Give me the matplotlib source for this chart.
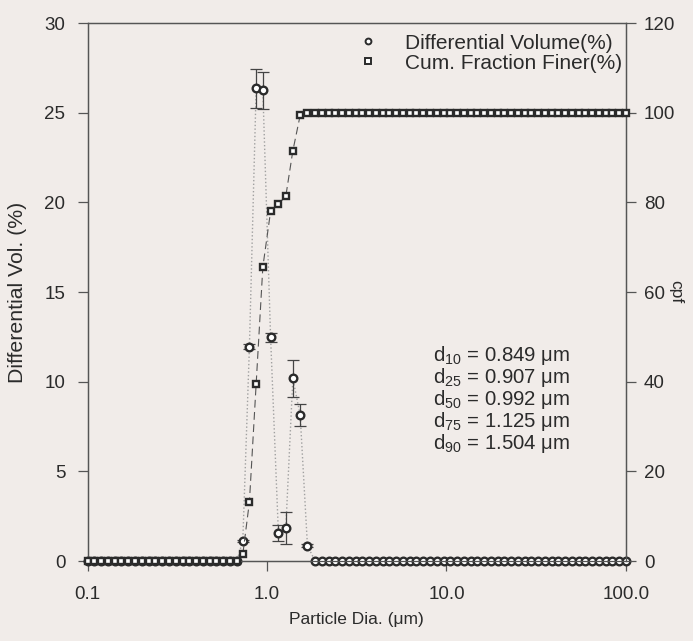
import numpy as np
import matplotlib
matplotlib.use('Agg')
import matplotlib.pyplot as plt
from matplotlib.ticker import NullLocator
from matplotlib.lines import Line2D

plt.rcParams['font.family'] = ['Liberation Sans', 'DejaVu Sans']
plt.rcParams['mathtext.default'] = 'regular'

# particle size bins (um): flat baseline grids + the peak region
x_left = np.geomspace(0.1, 0.679, 23)
x_peak = [0.733, 0.798, 0.870, 0.948, 1.047, 1.157, 1.273, 1.393, 1.530, 1.680]
x_right = np.geomspace(1.854, 100, 47)

# differential volume (%) and its error bars
diff_left = [0.0] * 23
diff_peak = [1.13, 11.95, 26.35, 26.25, 12.47, 1.58, 1.86, 10.18, 8.14, 0.85]
diff_right = [0.0] * 47
err_peak = [0.05, 0.15, 1.08, 1.02, 0.25, 0.45, 0.9, 1.05, 0.6, 0.08]

# cumulative fraction finer (%)
cum_left = [0.0] * 23
cum_peak = [1.5, 13.2, 39.5, 65.6, 78.0, 79.6, 81.4, 91.5, 99.4, 100.0]
cum_right = [100.0] * 47

d_names = ['10', '25', '50', '75', '90']
d_values = ['0.849', '0.907', '0.992', '1.125', '1.504']

x = np.concatenate([x_left, x_peak, x_right])
diff = np.array(diff_left + diff_peak + diff_right)
cum = np.array(cum_left + cum_peak + cum_right)

bg = '#f1ece9'
ink = '#2b2b2b'
fig, ax = plt.subplots(figsize=(6.93, 6.41), dpi=100)
fig.patch.set_facecolor(bg)
ax.set_facecolor(bg)
fig.subplots_adjust(left=0.1263, right=0.9033, bottom=0.1248, top=0.9641)

ax2 = ax.twinx()

# lines first, then markers on top
ax.plot(x, diff, ls=':', lw=1, color='#a0a0a0', zorder=1)
ax2.plot(x, cum, ls=(0, (7, 4)), lw=0.8, color='#555555', zorder=1)
ax.errorbar(x_peak, diff_peak, yerr=err_peak, fmt='none', ecolor='#444444',
            elinewidth=0.9, capsize=4.5, capthick=0.9, zorder=2)
ax.plot(x, diff, ls='none', marker='o', ms=5.5, mfc='white', mec=ink, mew=1.7,
        zorder=3, clip_on=False)
ax2.plot(x, cum, ls='none', marker='s', ms=5, mfc='white', mec=ink, mew=1.7,
         zorder=3, clip_on=False)

ax.set_xscale('log')
ax.set_xlim(0.1, 100)
ax.set_ylim(0, 30)
ax2.set_ylim(0, 120)
ax.set_xticks([0.1, 1, 10, 100])
ax.set_xticklabels(['0.1', '1.0', '10.0', '100.0'])
ax.xaxis.set_minor_locator(NullLocator())
ax.set_yticks([0, 5, 10, 15, 20, 25, 30])
ax2.set_yticks([0, 20, 40, 60, 80, 100, 120])

for a in (ax, ax2):
    for s in a.spines.values():
        s.set_color('#555555')
        s.set_linewidth(0.9)
ax.tick_params(axis='x', direction='out', length=7, width=0.9, color='#555555',
               pad=11, labelsize=13.5, labelcolor=ink)
ax.tick_params(axis='y', direction='out', length=7, width=0.9, color='#555555',
               pad=9, labelsize=13.5, labelcolor=ink)
ax2.tick_params(axis='y', direction='out', length=7, width=0.9, color='#555555',
                pad=6, labelsize=13.5, labelcolor=ink)

ax.set_xlabel('Particle Dia. (μm)', fontsize=12.5, color=ink)
ax.xaxis.set_label_coords(0.5, -0.095)
ax.set_ylabel('Differential Vol. (%)', fontsize=15.3, color=ink)
ax.yaxis.set_label_coords(-0.112, 0.5)
ax2.set_ylabel('cpf', fontsize=12.5, color=ink, rotation=270, va='center')
ax2.yaxis.set_label_coords(1.092, 0.5)

handles = [Line2D([], [], ls='none', marker='o', ms=4.2, mfc='white', mec=ink, mew=1.4),
           Line2D([], [], ls='none', marker='s', ms=4, mfc='white', mec=ink, mew=1.4)]
ax2.legend(handles, ['Differential Volume(%)', 'Cum. Fraction Finer(%)'],
           loc='upper right', bbox_to_anchor=(1.027, 1.015), frameon=False,
           fontsize=15, handletextpad=0.75, labelspacing=0.05,
           labelcolor=ink)

ys = [355, 377, 399, 421.5, 443.5]
for name, val, yp in zip(d_names, d_values, ys):
    ax.text(0.7685, (561 - yp) / 538, 'd$_{%s}$ = %s μm' % (name, val),
            transform=ax.transAxes, ha='center', va='center', fontsize=14.7,
            color=ink)

fig.savefig('out.png', dpi=100, facecolor=bg)
